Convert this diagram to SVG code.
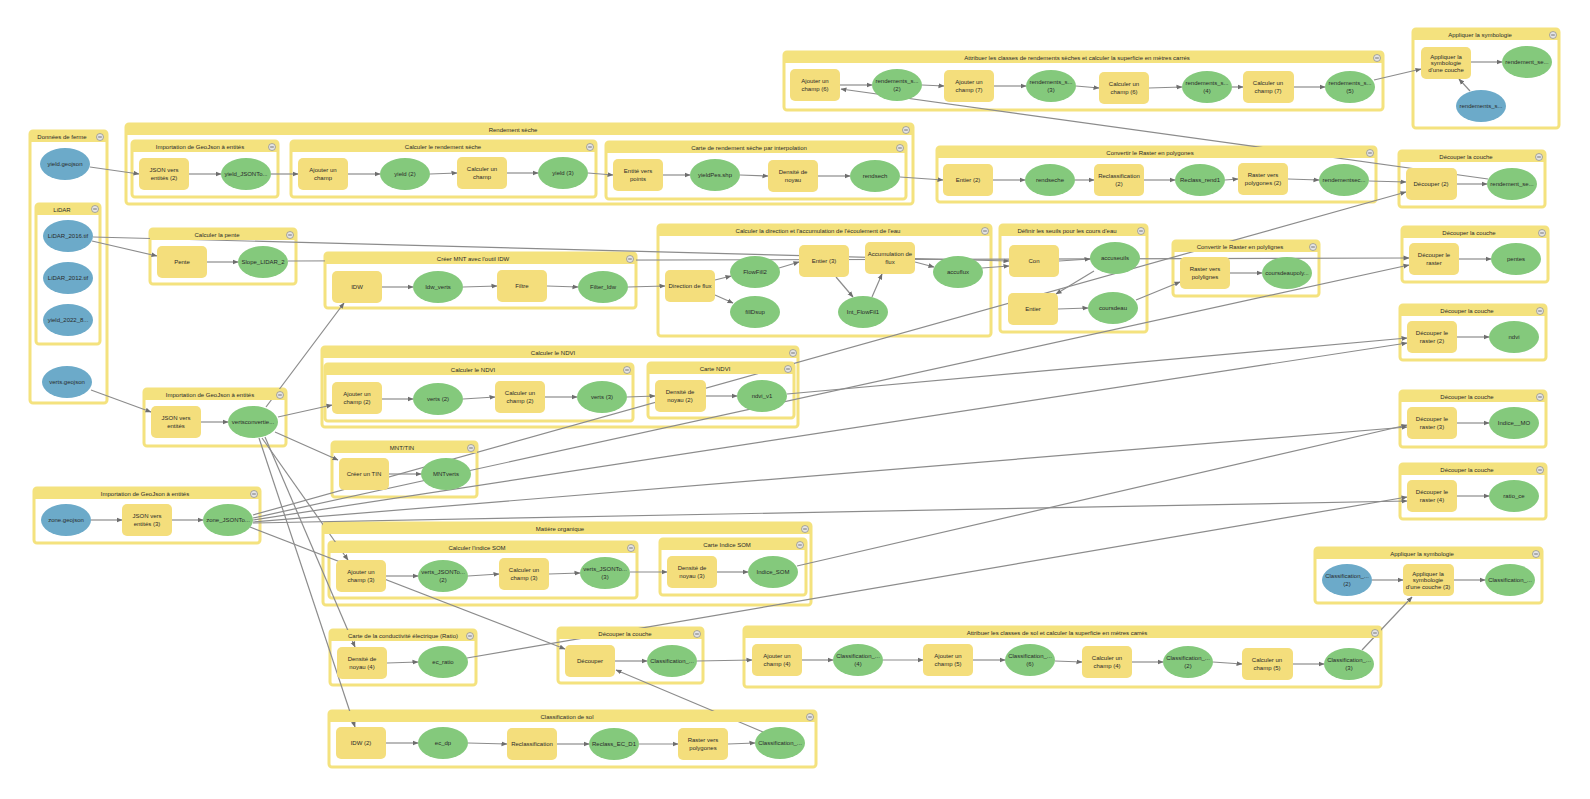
<svg xmlns="http://www.w3.org/2000/svg" width="1590" height="799" viewBox="0 0 1590 799">
<defs>
<style>
.bx{fill:#fff;stroke:#f4e27e;stroke-width:3}
.hd{fill:#f4e27e}
.tt{font-family:"Liberation Sans",Arial,sans-serif;font-size:6px;fill:#2a2a2a;text-anchor:middle}
.bt{fill:#e4e4e4;stroke:#8a8a8a;stroke-width:.7}
.bl{stroke:#555;stroke-width:.8}
.p{fill:#f4de7c}
.o{fill:#84c97c}
.i{fill:#6caac9}
.c{fill:none;stroke:#8c8c8c;stroke-width:1.2;marker-end:url(#ah)}
</style>
<marker id="ah" viewBox="0 0 6 6" refX="5.5" refY="3" markerWidth="6" markerHeight="6" markerUnits="userSpaceOnUse" orient="auto"><path d="M0,0.6L6,3L0,5.4z" fill="#6e6e6e"/></marker>
<g id="btn"><circle r="3.5" class="bt"/><path d="M-1.8,0H1.8" class="bl"/></g>
</defs>
<rect width="1590" height="799" fill="#fff"/>

<g id="containers">
<rect id="grp-donnees" class="bx" x="30" y="131" width="77" height="272" rx="3"/>
<rect id="grp-lidar" class="bx" x="36" y="204" width="64" height="140" rx="3"/>
<rect id="grp-rendement" class="bx" x="126" y="124" width="787" height="80" rx="3"/>
<rect id="grp-import1" class="bx" x="132" y="141" width="146" height="56" rx="3"/>
<rect id="grp-calcrend" class="bx" x="291" y="141" width="305" height="56" rx="3"/>
<rect id="grp-carterend" class="bx" x="606" y="142" width="300" height="57" rx="3"/>
<rect id="grp-attrrend" class="bx" x="784" y="52" width="599" height="58" rx="3"/>
<rect id="grp-sym1" class="bx" x="1413" y="29" width="146" height="99" rx="3"/>
<rect id="grp-convpoly" class="bx" x="937" y="147" width="439" height="55" rx="3"/>
<rect id="grp-dec-rend" class="bx" x="1399" y="151" width="146" height="56" rx="3"/>
<rect id="grp-pente" class="bx" x="150" y="229" width="146" height="55" rx="3"/>
<rect id="grp-mntidw" class="bx" x="325" y="253" width="311" height="55" rx="3"/>
<rect id="grp-flux" class="bx" x="658" y="225" width="333" height="111" rx="3"/>
<rect id="grp-seuils" class="bx" x="1000" y="225" width="147" height="107" rx="3"/>
<rect id="grp-convpl" class="bx" x="1173" y="241" width="146" height="55" rx="3"/>
<rect id="grp-dec-pentes" class="bx" x="1402" y="227" width="146" height="55" rx="3"/>
<rect id="grp-dec-ndvi" class="bx" x="1400" y="305" width="146" height="55" rx="3"/>
<rect id="grp-dec-mo" class="bx" x="1400" y="391" width="146" height="56" rx="3"/>
<rect id="grp-dec-ratio" class="bx" x="1400" y="464" width="146" height="55" rx="3"/>
<rect id="grp-ndvi-outer" class="bx" x="322" y="347" width="476" height="80" rx="3"/>
<rect id="grp-ndvi-inner" class="bx" x="325" y="364" width="308" height="57" rx="3"/>
<rect id="grp-cartendvi" class="bx" x="648" y="363" width="146" height="55" rx="3"/>
<rect id="grp-import2" class="bx" x="144" y="389" width="142" height="57" rx="3"/>
<rect id="grp-tin" class="bx" x="332" y="442" width="145" height="55" rx="3"/>
<rect id="grp-import3" class="bx" x="34" y="488" width="226" height="55" rx="3"/>
<rect id="grp-mo" class="bx" x="323" y="523" width="488" height="82" rx="3"/>
<rect id="grp-som" class="bx" x="329" y="542" width="308" height="56" rx="3"/>
<rect id="grp-cartesom" class="bx" x="660" y="539" width="146" height="56" rx="3"/>
<rect id="grp-ce" class="bx" x="330" y="630" width="146" height="55" rx="3"/>
<rect id="grp-dec-sol" class="bx" x="558" y="628" width="145" height="55" rx="3"/>
<rect id="grp-attrsol" class="bx" x="744" y="627" width="637" height="60" rx="3"/>
<rect id="grp-sym2" class="bx" x="1315" y="548" width="227" height="55" rx="3"/>
<rect id="grp-classsol" class="bx" x="329" y="711" width="487" height="56" rx="3"/>
</g>

<g id="connectors">
<path class="c" d="M90,167L139,174"/>
<path class="c" d="M189,174L221,174"/>
<path class="c" d="M271,174L298,174"/>
<path class="c" d="M348,174L380,174"/>
<path class="c" d="M430,174L457,173"/>
<path class="c" d="M507,173L538,173"/>
<path class="c" d="M588,173L613,175"/>
<path class="c" d="M663,175L690,175"/>
<path class="c" d="M740,175L768,176"/>
<path class="c" d="M818,176L850,176"/>
<path class="c" d="M900,177L943,180"/>
<path class="c" d="M993,180L1025,180"/>
<path class="c" d="M1075,180L1094,180"/>
<path class="c" d="M1144,180L1175,180"/>
<path class="c" d="M1225,180L1238,179"/>
<path class="c" d="M1288,179L1319,180"/>
<path class="c" d="M1369,181L1406,182"/>
<path class="c" d="M1457,184L1487,184"/>
<path class="c" d="M1488,179L841,89"/>
<path class="c" d="M840,85L872,85"/>
<path class="c" d="M922,85L944,86"/>
<path class="c" d="M994,86L1026,86"/>
<path class="c" d="M1076,86L1099,88"/>
<path class="c" d="M1149,88L1182,87"/>
<path class="c" d="M1232,87L1243,87"/>
<path class="c" d="M1294,87L1325,87"/>
<path class="c" d="M1374,80L1421,69"/>
<path class="c" d="M1471,62L1502,62"/>
<path class="c" d="M1470,91L1459,79"/>
<path class="c" d="M92,241L157,256"/>
<path class="c" d="M93,237L1009,261"/>
<path class="c" d="M207,262L238,262"/>
<path class="c" d="M288,261L1409,258"/>
<path class="c" d="M1459,259L1491,259"/>
<path class="c" d="M266,407L344,303"/>
<path class="c" d="M382,287L413,287"/>
<path class="c" d="M463,287L497,286"/>
<path class="c" d="M547,286L578,287"/>
<path class="c" d="M628,287L665,286"/>
<path class="c" d="M715,280L731,276"/>
<path class="c" d="M715,295L733,303"/>
<path class="c" d="M779,268L799,262"/>
<path class="c" d="M836,277L853,297"/>
<path class="c" d="M872,297L882,274"/>
<path class="c" d="M915,262L934,267"/>
<path class="c" d="M982,268L1009,266"/>
<path class="c" d="M1059,261L1090,259"/>
<path class="c" d="M1094,271L1056,294"/>
<path class="c" d="M1058,309L1088,308"/>
<path class="c" d="M1136,300L1180,282"/>
<path class="c" d="M1230,273L1262,273"/>
<path class="c" d="M278,417L332,405"/>
<path class="c" d="M382,399L413,399"/>
<path class="c" d="M463,399L495,397"/>
<path class="c" d="M545,397L577,397"/>
<path class="c" d="M627,397L655,396"/>
<path class="c" d="M706,396L737,396"/>
<path class="c" d="M787,394L1407,338"/>
<path class="c" d="M1457,337L1489,337"/>
<path class="c" d="M91,390L151,412"/>
<path class="c" d="M201,422L228,422"/>
<path class="c" d="M275,432L338,460"/>
<path class="c" d="M389,474L421,474"/>
<path class="c" d="M91,520L122,520"/>
<path class="c" d="M172,520L203,520"/>
<path class="c" d="M253,515L1406,192"/>
<path class="c" d="M253,518L1409,265"/>
<path class="c" d="M253,520L1407,343"/>
<path class="c" d="M253,522L1407,427"/>
<path class="c" d="M253,523L1407,501"/>
<path class="c" d="M250,527L565,649"/>
<path class="c" d="M262,438L348,560"/>
<path class="c" d="M265,437L355,647"/>
<path class="c" d="M259,438L355,727"/>
<path class="c" d="M386,576L418,576"/>
<path class="c" d="M468,576L499,574"/>
<path class="c" d="M549,574L580,573"/>
<path class="c" d="M630,572L667,572"/>
<path class="c" d="M717,572L748,572"/>
<path class="c" d="M797,566L1407,425"/>
<path class="c" d="M1457,423L1489,423"/>
<path class="c" d="M387,663L418,662"/>
<path class="c" d="M467,658L1407,497"/>
<path class="c" d="M1457,496L1489,496"/>
<path class="c" d="M386,743L418,743"/>
<path class="c" d="M468,743L507,744"/>
<path class="c" d="M557,744L589,744"/>
<path class="c" d="M639,744L678,744"/>
<path class="c" d="M728,744L755,743"/>
<path class="c" d="M763,732L616,670"/>
<path class="c" d="M615,661L647,661"/>
<path class="c" d="M697,661L752,660"/>
<path class="c" d="M802,660L833,660"/>
<path class="c" d="M883,660L923,660"/>
<path class="c" d="M973,660L1005,660"/>
<path class="c" d="M1055,661L1082,662"/>
<path class="c" d="M1132,662L1163,662"/>
<path class="c" d="M1213,662L1242,664"/>
<path class="c" d="M1293,664L1324,664"/>
<path class="c" d="M1362,650L1412,597"/>
<path class="c" d="M1372,580L1403,580"/>
<path class="c" d="M1454,580L1485,580"/>
</g>

<g id="container-headers">
<g id="hd-donnees"><rect class="hd" x="30" y="131" width="77" height="11"/><text class="tt" x="62" y="139">Données de ferme</text><use href="#btn" x="100" y="137"/></g>
<g id="hd-lidar"><rect class="hd" x="36" y="204" width="64" height="11"/><text class="tt" x="62" y="212">LiDAR</text><use href="#btn" x="95" y="209"/></g>
<g id="hd-rendement"><rect class="hd" x="126" y="124" width="787" height="11"/><text class="tt" x="513" y="132">Rendement sèche</text><use href="#btn" x="906" y="130"/></g>
<g id="hd-import1"><rect class="hd" x="132" y="141" width="146" height="11"/><text class="tt" x="200" y="149">Importation de GeoJson à entités</text><use href="#btn" x="272" y="147"/></g>
<g id="hd-calcrend"><rect class="hd" x="291" y="141" width="305" height="11"/><text class="tt" x="443" y="149">Calculer le rendement sèche</text><use href="#btn" x="590" y="147"/></g>
<g id="hd-carterend"><rect class="hd" x="606" y="142" width="300" height="11"/><text class="tt" x="749" y="150">Carte de rendement sèche par interpolation</text><use href="#btn" x="900" y="148"/></g>
<g id="hd-attrrend"><rect class="hd" x="784" y="52" width="599" height="11"/><text class="tt" x="1077" y="60">Attribuer les classes de rendements sèches et calculer la superficie en mètres carrés</text><use href="#btn" x="1377" y="58"/></g>
<g id="hd-sym1"><rect class="hd" x="1413" y="29" width="146" height="11"/><text class="tt" x="1480" y="37">Appliquer la symbologie</text><use href="#btn" x="1553" y="35"/></g>
<g id="hd-convpoly"><rect class="hd" x="937" y="147" width="439" height="11"/><text class="tt" x="1150" y="155">Convertir le Raster en polygones</text><use href="#btn" x="1370" y="153"/></g>
<g id="hd-dec-rend"><rect class="hd" x="1399" y="151" width="146" height="11"/><text class="tt" x="1466" y="159">Découper la couche</text><use href="#btn" x="1539" y="157"/></g>
<g id="hd-pente"><rect class="hd" x="150" y="229" width="146" height="11"/><text class="tt" x="217" y="237">Calculer la pente</text><use href="#btn" x="290" y="235"/></g>
<g id="hd-mntidw"><rect class="hd" x="325" y="253" width="311" height="11"/><text class="tt" x="473" y="261">Créer MNT avec l'outil IDW</text><use href="#btn" x="630" y="259"/></g>
<g id="hd-flux"><rect class="hd" x="658" y="225" width="333" height="11"/><text class="tt" x="818" y="233">Calculer la direction et l'accumulation de l'écoulement de l'eau</text><use href="#btn" x="985" y="231"/></g>
<g id="hd-seuils"><rect class="hd" x="1000" y="225" width="147" height="11"/><text class="tt" x="1067" y="233">Définir les seuils pour les cours d'eau</text><use href="#btn" x="1141" y="231"/></g>
<g id="hd-convpl"><rect class="hd" x="1173" y="241" width="146" height="11"/><text class="tt" x="1240" y="249">Convertir le Raster en polylignes</text><use href="#btn" x="1313" y="247"/></g>
<g id="hd-dec-pentes"><rect class="hd" x="1402" y="227" width="146" height="11"/><text class="tt" x="1469" y="235">Découper la couche</text><use href="#btn" x="1542" y="233"/></g>
<g id="hd-dec-ndvi"><rect class="hd" x="1400" y="305" width="146" height="11"/><text class="tt" x="1467" y="313">Découper la couche</text><use href="#btn" x="1540" y="311"/></g>
<g id="hd-dec-mo"><rect class="hd" x="1400" y="391" width="146" height="11"/><text class="tt" x="1467" y="399">Découper la couche</text><use href="#btn" x="1540" y="397"/></g>
<g id="hd-dec-ratio"><rect class="hd" x="1400" y="464" width="146" height="11"/><text class="tt" x="1467" y="472">Découper la couche</text><use href="#btn" x="1540" y="470"/></g>
<g id="hd-ndvi-outer"><rect class="hd" x="322" y="347" width="476" height="11"/><text class="tt" x="553" y="355">Calculer le NDVI</text><use href="#btn" x="793" y="353"/></g>
<g id="hd-ndvi-inner"><rect class="hd" x="325" y="364" width="308" height="11"/><text class="tt" x="473" y="372">Calculer le NDVI</text><use href="#btn" x="627" y="370"/></g>
<g id="hd-cartendvi"><rect class="hd" x="648" y="363" width="146" height="11"/><text class="tt" x="715" y="371">Carte NDVI</text><use href="#btn" x="788" y="369"/></g>
<g id="hd-import2"><rect class="hd" x="144" y="389" width="142" height="11"/><text class="tt" x="210" y="397">Importation de GeoJson à entités</text><use href="#btn" x="280" y="395"/></g>
<g id="hd-tin"><rect class="hd" x="332" y="442" width="145" height="11"/><text class="tt" x="402" y="450">MNT/TIN</text><use href="#btn" x="471" y="448"/></g>
<g id="hd-import3"><rect class="hd" x="34" y="488" width="226" height="11"/><text class="tt" x="145" y="496">Importation de GeoJson à entités</text><use href="#btn" x="254" y="494"/></g>
<g id="hd-mo"><rect class="hd" x="323" y="523" width="488" height="11"/><text class="tt" x="560" y="531">Matière organique</text><use href="#btn" x="805" y="529"/></g>
<g id="hd-som"><rect class="hd" x="329" y="542" width="308" height="11"/><text class="tt" x="477" y="550">Calculer l'indice SOM</text><use href="#btn" x="631" y="548"/></g>
<g id="hd-cartesom"><rect class="hd" x="660" y="539" width="146" height="11"/><text class="tt" x="727" y="547">Carte Indice SOM</text><use href="#btn" x="800" y="545"/></g>
<g id="hd-ce"><rect class="hd" x="330" y="630" width="146" height="11"/><text class="tt" x="403" y="638">Carte de la conductivité électrique (Ratio)</text><use href="#btn" x="470" y="636"/></g>
<g id="hd-dec-sol"><rect class="hd" x="558" y="628" width="145" height="11"/><text class="tt" x="625" y="636">Découper la couche</text><use href="#btn" x="697" y="634"/></g>
<g id="hd-attrsol"><rect class="hd" x="744" y="627" width="637" height="11"/><text class="tt" x="1057" y="635">Attribuer les classes de sol et calculer la superficie en mètres carrés</text><use href="#btn" x="1375" y="633"/></g>
<g id="hd-sym2"><rect class="hd" x="1315" y="548" width="227" height="11"/><text class="tt" x="1422" y="556">Appliquer la symbologie</text><use href="#btn" x="1536" y="554"/></g>
<g id="hd-classsol"><rect class="hd" x="329" y="711" width="487" height="11"/><text class="tt" x="567" y="719">Classification de sol</text><use href="#btn" x="810" y="717"/></g>
</g>

<g id="nodes">
<g id="n-yield-geojson"><ellipse class="i" cx="65" cy="164" rx="25" ry="16"/><text class="tt" x="65" y="166">yield.geojson</text></g>
<g id="n-lidar-2016"><ellipse class="i" cx="68" cy="236" rx="25" ry="16"/><text class="tt" x="68" y="238">LiDAR_2016.tif</text></g>
<g id="n-lidar-2012"><ellipse class="i" cx="68" cy="278" rx="25" ry="16"/><text class="tt" x="68" y="280">LiDAR_2012.tif</text></g>
<g id="n-yield-2022"><ellipse class="i" cx="68" cy="320" rx="25" ry="16"/><text class="tt" x="68" y="322">yield_2022_8...</text></g>
<g id="n-verts-geojson"><ellipse class="i" cx="67" cy="382" rx="25" ry="16"/><text class="tt" x="67" y="384">verts.geojson</text></g>
<g id="n-zone-geojson"><ellipse class="i" cx="66" cy="520" rx="25" ry="16"/><text class="tt" x="66" y="522">zone.geojson</text></g>
<g id="n-rend-s-sym"><ellipse class="i" cx="1481" cy="106" rx="25" ry="16"/><text class="tt" x="1481" y="108">rendements_s...</text></g>
<g id="n-class2-sym"><ellipse class="i" cx="1347" cy="580" rx="25" ry="16"/><text class="tt" x="1347" y="578">Classification_...</text><text class="tt" x="1347" y="586">(2)</text></g>

<g id="p-json2"><rect class="p" x="139" y="158" width="50" height="32" rx="5"/><text class="tt" x="164" y="172">JSON vers</text><text class="tt" x="164" y="180">entités (2)</text></g>
<g id="p-ajout"><rect class="p" x="298" y="158" width="50" height="32" rx="5"/><text class="tt" x="323" y="172">Ajouter un</text><text class="tt" x="323" y="180">champ</text></g>
<g id="p-calc"><rect class="p" x="457" y="157" width="50" height="32" rx="5"/><text class="tt" x="482" y="171">Calculer un</text><text class="tt" x="482" y="179">champ</text></g>
<g id="p-entpts"><rect class="p" x="613" y="159" width="50" height="32" rx="5"/><text class="tt" x="638" y="173">Entité vers</text><text class="tt" x="638" y="181">points</text></g>
<g id="p-dens"><rect class="p" x="768" y="160" width="50" height="32" rx="5"/><text class="tt" x="793" y="174">Densité de</text><text class="tt" x="793" y="182">noyau</text></g>
<g id="p-entier2"><rect class="p" x="943" y="164" width="50" height="32" rx="5"/><text class="tt" x="968" y="182">Entier (2)</text></g>
<g id="p-reclass2"><rect class="p" x="1094" y="164" width="50" height="32" rx="5"/><text class="tt" x="1119" y="178">Reclassification</text><text class="tt" x="1119" y="186">(2)</text></g>
<g id="p-rvp2"><rect class="p" x="1238" y="163" width="50" height="32" rx="5"/><text class="tt" x="1263" y="177">Raster vers</text><text class="tt" x="1263" y="185">polygones (2)</text></g>
<g id="p-dec2"><rect class="p" x="1406" y="168" width="51" height="32" rx="5"/><text class="tt" x="1431" y="186">Découper (2)</text></g>
<g id="p-ajout6"><rect class="p" x="790" y="69" width="50" height="32" rx="5"/><text class="tt" x="815" y="83">Ajouter un</text><text class="tt" x="815" y="91">champ (6)</text></g>
<g id="p-ajout7"><rect class="p" x="944" y="70" width="50" height="32" rx="5"/><text class="tt" x="969" y="84">Ajouter un</text><text class="tt" x="969" y="92">champ (7)</text></g>
<g id="p-calc6"><rect class="p" x="1099" y="72" width="50" height="32" rx="5"/><text class="tt" x="1124" y="86">Calculer un</text><text class="tt" x="1124" y="94">champ (6)</text></g>
<g id="p-calc7"><rect class="p" x="1243" y="71" width="51" height="32" rx="5"/><text class="tt" x="1268" y="85">Calculer un</text><text class="tt" x="1268" y="93">champ (7)</text></g>
<g id="p-sym"><rect class="p" x="1421" y="47" width="50" height="32" rx="5"/><text class="tt" x="1446" y="58.5">Appliquer la</text><text class="tt" x="1446" y="65">symbologie</text><text class="tt" x="1446" y="71.5">d'une couche</text></g>
<g id="p-pente"><rect class="p" x="157" y="246" width="50" height="32" rx="5"/><text class="tt" x="182" y="264">Pente</text></g>
<g id="p-idw"><rect class="p" x="332" y="271" width="50" height="32" rx="5"/><text class="tt" x="357" y="289">IDW</text></g>
<g id="p-filtre"><rect class="p" x="497" y="270" width="50" height="32" rx="5"/><text class="tt" x="522" y="288">Filtre</text></g>
<g id="p-dirflux"><rect class="p" x="665" y="270" width="50" height="32" rx="5"/><text class="tt" x="690" y="288">Direction de flux</text></g>
<g id="p-entier3"><rect class="p" x="799" y="245" width="50" height="32" rx="5"/><text class="tt" x="824" y="263">Entier (3)</text></g>
<g id="p-accum"><rect class="p" x="865" y="242" width="50" height="32" rx="5"/><text class="tt" x="890" y="256">Accumulation de</text><text class="tt" x="890" y="264">flux</text></g>
<g id="p-con"><rect class="p" x="1009" y="245" width="50" height="32" rx="5"/><text class="tt" x="1034" y="263">Con</text></g>
<g id="p-entier"><rect class="p" x="1008" y="293" width="50" height="32" rx="5"/><text class="tt" x="1033" y="311">Entier</text></g>
<g id="p-rvpl"><rect class="p" x="1180" y="257" width="50" height="32" rx="5"/><text class="tt" x="1205" y="271">Raster vers</text><text class="tt" x="1205" y="279">polylignes</text></g>
<g id="p-decr"><rect class="p" x="1409" y="243" width="50" height="32" rx="5"/><text class="tt" x="1434" y="257">Découper le</text><text class="tt" x="1434" y="265">raster</text></g>
<g id="p-decr2"><rect class="p" x="1407" y="321" width="50" height="32" rx="5"/><text class="tt" x="1432" y="335">Découper le</text><text class="tt" x="1432" y="343">raster (2)</text></g>
<g id="p-decr3"><rect class="p" x="1407" y="407" width="50" height="32" rx="5"/><text class="tt" x="1432" y="421">Découper le</text><text class="tt" x="1432" y="429">raster (3)</text></g>
<g id="p-decr4"><rect class="p" x="1407" y="480" width="50" height="32" rx="5"/><text class="tt" x="1432" y="494">Découper le</text><text class="tt" x="1432" y="502">raster (4)</text></g>
<g id="p-json"><rect class="p" x="151" y="406" width="50" height="32" rx="5"/><text class="tt" x="176" y="420">JSON vers</text><text class="tt" x="176" y="428">entités</text></g>
<g id="p-ajout2"><rect class="p" x="332" y="382" width="50" height="32" rx="5"/><text class="tt" x="357" y="396">Ajouter un</text><text class="tt" x="357" y="404">champ (2)</text></g>
<g id="p-calc2"><rect class="p" x="495" y="381" width="50" height="32" rx="5"/><text class="tt" x="520" y="395">Calculer un</text><text class="tt" x="520" y="403">champ (2)</text></g>
<g id="p-dens2"><rect class="p" x="655" y="380" width="51" height="32" rx="5"/><text class="tt" x="680" y="394">Densité de</text><text class="tt" x="680" y="402">noyau (2)</text></g>
<g id="p-tin"><rect class="p" x="339" y="458" width="50" height="32" rx="5"/><text class="tt" x="364" y="476">Créer un TIN</text></g>
<g id="p-json3"><rect class="p" x="122" y="504" width="50" height="32" rx="5"/><text class="tt" x="147" y="518">JSON vers</text><text class="tt" x="147" y="526">entités (3)</text></g>
<g id="p-ajout3"><rect class="p" x="336" y="560" width="50" height="32" rx="5"/><text class="tt" x="361" y="574">Ajouter un</text><text class="tt" x="361" y="582">champ (3)</text></g>
<g id="p-calc3"><rect class="p" x="499" y="558" width="50" height="32" rx="5"/><text class="tt" x="524" y="572">Calculer un</text><text class="tt" x="524" y="580">champ (3)</text></g>
<g id="p-dens3"><rect class="p" x="667" y="556" width="50" height="32" rx="5"/><text class="tt" x="692" y="570">Densité de</text><text class="tt" x="692" y="578">noyau (3)</text></g>
<g id="p-dens4"><rect class="p" x="337" y="647" width="50" height="32" rx="5"/><text class="tt" x="362" y="661">Densité de</text><text class="tt" x="362" y="669">noyau (4)</text></g>
<g id="p-dec"><rect class="p" x="565" y="645" width="50" height="32" rx="5"/><text class="tt" x="590" y="663">Découper</text></g>
<g id="p-ajout4"><rect class="p" x="752" y="644" width="50" height="32" rx="5"/><text class="tt" x="777" y="658">Ajouter un</text><text class="tt" x="777" y="666">champ (4)</text></g>
<g id="p-ajout5"><rect class="p" x="923" y="644" width="50" height="32" rx="5"/><text class="tt" x="948" y="658">Ajouter un</text><text class="tt" x="948" y="666">champ (5)</text></g>
<g id="p-calc4"><rect class="p" x="1082" y="646" width="50" height="32" rx="5"/><text class="tt" x="1107" y="660">Calculer un</text><text class="tt" x="1107" y="668">champ (4)</text></g>
<g id="p-calc5"><rect class="p" x="1242" y="648" width="51" height="32" rx="5"/><text class="tt" x="1267" y="662">Calculer un</text><text class="tt" x="1267" y="670">champ (5)</text></g>
<g id="p-sym3"><rect class="p" x="1403" y="564" width="51" height="32" rx="5"/><text class="tt" x="1428" y="575.5">Appliquer la</text><text class="tt" x="1428" y="582">symbologie</text><text class="tt" x="1428" y="588.5">d'une couche (3)</text></g>
<g id="p-idw2"><rect class="p" x="336" y="727" width="50" height="32" rx="5"/><text class="tt" x="361" y="745">IDW (2)</text></g>
<g id="p-reclass"><rect class="p" x="507" y="728" width="50" height="32" rx="5"/><text class="tt" x="532" y="746">Reclassification</text></g>
<g id="p-rvp"><rect class="p" x="678" y="728" width="50" height="32" rx="5"/><text class="tt" x="703" y="742">Raster vers</text><text class="tt" x="703" y="750">polygones</text></g>

<g id="o-yield-json"><ellipse class="o" cx="246" cy="174" rx="25" ry="16"/><text class="tt" x="246" y="176">yield_JSONTo...</text></g>
<g id="o-yield2"><ellipse class="o" cx="405" cy="174" rx="25" ry="16"/><text class="tt" x="405" y="176">yield (2)</text></g>
<g id="o-yield3"><ellipse class="o" cx="563" cy="173" rx="25" ry="16"/><text class="tt" x="563" y="175">yield (3)</text></g>
<g id="o-yieldpes"><ellipse class="o" cx="715" cy="175" rx="25" ry="16"/><text class="tt" x="715" y="177">yieldPes.shp</text></g>
<g id="o-rendsech"><ellipse class="o" cx="875" cy="176" rx="25" ry="16"/><text class="tt" x="875" y="178">rendsech</text></g>
<g id="o-rendseche"><ellipse class="o" cx="1050" cy="180" rx="25" ry="16"/><text class="tt" x="1050" y="182">rendseche</text></g>
<g id="o-reclassrend1"><ellipse class="o" cx="1200" cy="180" rx="25" ry="16"/><text class="tt" x="1200" y="182">Reclass_rend1</text></g>
<g id="o-rendementsec"><ellipse class="o" cx="1344" cy="180" rx="25" ry="16"/><text class="tt" x="1344" y="182">rendementsec...</text></g>
<g id="o-rendement-se1"><ellipse class="o" cx="1512" cy="184" rx="25" ry="16"/><text class="tt" x="1512" y="186">rendement_se...</text></g>
<g id="o-rs2"><ellipse class="o" cx="897" cy="85" rx="25" ry="16"/><text class="tt" x="897" y="83">rendements_s...</text><text class="tt" x="897" y="91">(2)</text></g>
<g id="o-rs3"><ellipse class="o" cx="1051" cy="86" rx="25" ry="16"/><text class="tt" x="1051" y="84">rendements_s...</text><text class="tt" x="1051" y="92">(3)</text></g>
<g id="o-rs4"><ellipse class="o" cx="1207" cy="87" rx="25" ry="16"/><text class="tt" x="1207" y="85">rendements_s...</text><text class="tt" x="1207" y="93">(4)</text></g>
<g id="o-rs5"><ellipse class="o" cx="1350" cy="87" rx="25" ry="16"/><text class="tt" x="1350" y="85">rendements_s...</text><text class="tt" x="1350" y="93">(5)</text></g>
<g id="o-rendement-se2"><ellipse class="o" cx="1527" cy="62" rx="25" ry="16"/><text class="tt" x="1527" y="64">rendement_se...</text></g>
<g id="o-slope"><ellipse class="o" cx="263" cy="262" rx="25" ry="16"/><text class="tt" x="263" y="264">Slope_LIDAR_2</text></g>
<g id="o-idwverts"><ellipse class="o" cx="438" cy="287" rx="25" ry="16"/><text class="tt" x="438" y="289">Idw_verts</text></g>
<g id="o-filteridw"><ellipse class="o" cx="603" cy="287" rx="25" ry="16"/><text class="tt" x="603" y="289">Filter_Idw</text></g>
<g id="o-flowfill2"><ellipse class="o" cx="755" cy="272" rx="25" ry="16"/><text class="tt" x="755" y="274">FlowFill2</text></g>
<g id="o-filldsup"><ellipse class="o" cx="755" cy="312" rx="25" ry="16"/><text class="tt" x="755" y="314">fillDsup</text></g>
<g id="o-intflow"><ellipse class="o" cx="863" cy="312" rx="25" ry="16"/><text class="tt" x="863" y="314">Int_FlowFil1</text></g>
<g id="o-accuflux"><ellipse class="o" cx="958" cy="272" rx="25" ry="16"/><text class="tt" x="958" y="274">accuflux</text></g>
<g id="o-accuseuils"><ellipse class="o" cx="1115" cy="258" rx="25" ry="16"/><text class="tt" x="1115" y="260">accuseuils</text></g>
<g id="o-coursdeau"><ellipse class="o" cx="1113" cy="308" rx="25" ry="16"/><text class="tt" x="1113" y="310">coursdeau</text></g>
<g id="o-coursdeaupoly"><ellipse class="o" cx="1287" cy="273" rx="25" ry="16"/><text class="tt" x="1287" y="275">coursdeaupoly...</text></g>
<g id="o-pentes"><ellipse class="o" cx="1516" cy="259" rx="25" ry="16"/><text class="tt" x="1516" y="261">pentes</text></g>
<g id="o-ndvi"><ellipse class="o" cx="1514" cy="337" rx="25" ry="16"/><text class="tt" x="1514" y="339">ndvi</text></g>
<g id="o-indicemo"><ellipse class="o" cx="1514" cy="423" rx="25" ry="16"/><text class="tt" x="1514" y="425">Indice__MO</text></g>
<g id="o-ratioce"><ellipse class="o" cx="1514" cy="496" rx="25" ry="16"/><text class="tt" x="1514" y="498">ratio_ce</text></g>
<g id="o-vertsconv"><ellipse class="o" cx="253" cy="422" rx="25" ry="16"/><text class="tt" x="253" y="424">vertsconvertie...</text></g>
<g id="o-verts2"><ellipse class="o" cx="438" cy="399" rx="25" ry="16"/><text class="tt" x="438" y="401">verts (2)</text></g>
<g id="o-verts3"><ellipse class="o" cx="602" cy="397" rx="25" ry="16"/><text class="tt" x="602" y="399">verts (3)</text></g>
<g id="o-ndviv1"><ellipse class="o" cx="762" cy="396" rx="25" ry="16"/><text class="tt" x="762" y="398">ndvi_v1</text></g>
<g id="o-mntverts"><ellipse class="o" cx="446" cy="474" rx="25" ry="16"/><text class="tt" x="446" y="476">MNTverts</text></g>
<g id="o-zonejson"><ellipse class="o" cx="228" cy="520" rx="25" ry="16"/><text class="tt" x="228" y="522">zone_JSONTo...</text></g>
<g id="o-vj2"><ellipse class="o" cx="443" cy="576" rx="25" ry="16"/><text class="tt" x="443" y="574">verts_JSONTo...</text><text class="tt" x="443" y="582">(2)</text></g>
<g id="o-vj3"><ellipse class="o" cx="605" cy="573" rx="25" ry="16"/><text class="tt" x="605" y="571">verts_JSONTo...</text><text class="tt" x="605" y="579">(3)</text></g>
<g id="o-indicesom"><ellipse class="o" cx="773" cy="572" rx="25" ry="16"/><text class="tt" x="773" y="574">Indice_SOM</text></g>
<g id="o-ecratio"><ellipse class="o" cx="443" cy="662" rx="25" ry="16"/><text class="tt" x="443" y="664">ec_ratio</text></g>
<g id="o-class-dec"><ellipse class="o" cx="672" cy="661" rx="25" ry="16"/><text class="tt" x="672" y="663">Classification_...</text></g>
<g id="o-class4"><ellipse class="o" cx="858" cy="660" rx="25" ry="16"/><text class="tt" x="858" y="658">Classification_...</text><text class="tt" x="858" y="666">(4)</text></g>
<g id="o-class6"><ellipse class="o" cx="1030" cy="660" rx="25" ry="16"/><text class="tt" x="1030" y="658">Classification_...</text><text class="tt" x="1030" y="666">(6)</text></g>
<g id="o-class2"><ellipse class="o" cx="1188" cy="662" rx="25" ry="16"/><text class="tt" x="1188" y="660">Classification_...</text><text class="tt" x="1188" y="668">(2)</text></g>
<g id="o-class3"><ellipse class="o" cx="1349" cy="664" rx="25" ry="16"/><text class="tt" x="1349" y="662">Classification_...</text><text class="tt" x="1349" y="670">(3)</text></g>
<g id="o-class-sym"><ellipse class="o" cx="1510" cy="580" rx="25" ry="16"/><text class="tt" x="1510" y="582">Classification_...</text></g>
<g id="o-ecdp"><ellipse class="o" cx="443" cy="743" rx="25" ry="16"/><text class="tt" x="443" y="745">ec_dp</text></g>
<g id="o-reclassec"><ellipse class="o" cx="614" cy="744" rx="25" ry="16"/><text class="tt" x="614" y="746">Reclass_EC_D1</text></g>
<g id="o-class-sol"><ellipse class="o" cx="780" cy="743" rx="25" ry="16"/><text class="tt" x="780" y="745">Classification_...</text></g>
</g>
</svg>
